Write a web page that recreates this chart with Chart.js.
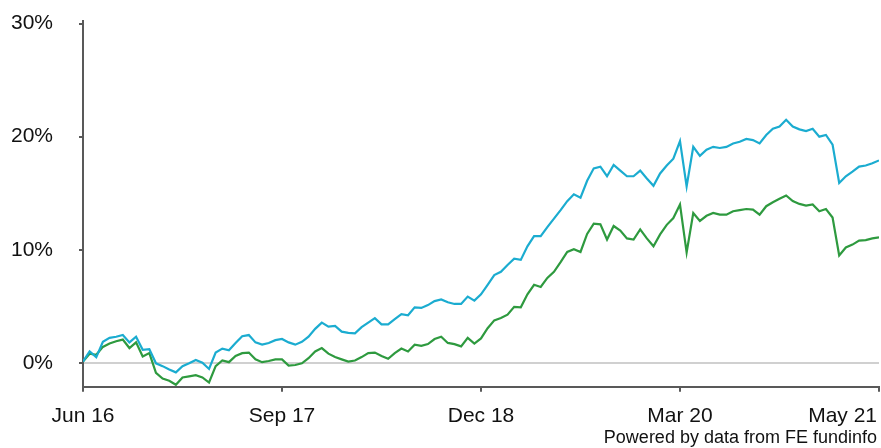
<!DOCTYPE html>
<html>
<head>
<meta charset="utf-8">
<script src="https://cdn.jsdelivr.net/npm/chart.js@4.4.1/dist/chart.umd.min.js"></script>
<style>
  html, body { margin: 0; padding: 0; background: #fff; }
</style>
</head>
<body>
<canvas id="perfChart" width="881" height="448"></canvas>
<script>
// ==========================
// Data (half-month steps, Jun 16 -> May 21)
// ==========================
const xTickPos    = [0, 30, 60, 90, 120];
const xTickLabels = ['Jun 16', 'Sep 17', 'Dec 18', 'Mar 20', 'May 21'];
const yTickValues = [0, 10, 20, 30];
const sourceNote  = 'Powered by data from FE fundinfo';

const fundReturn = [
  0.1, 1.0, 0.5, 1.85, 2.2, 2.3, 2.45, 1.8, 2.3, 1.15,
  1.2, -0.05, -0.3, -0.6, -0.85, -0.3, -0.05, 0.25, 0.0, -0.55,
  0.9, 1.25, 1.1, 1.75, 2.35, 2.45, 1.8, 1.6, 1.75, 2.0,
  2.1, 1.8, 1.6, 1.85, 2.3, 3.0, 3.55, 3.2, 3.25, 2.75,
  2.65, 2.6, 3.15, 3.55, 3.95, 3.4, 3.4, 3.85, 4.3, 4.2,
  4.9, 4.85, 5.1, 5.45, 5.6, 5.35, 5.2, 5.2, 5.85, 5.5,
  6.05, 6.9, 7.75, 8.05, 8.65, 9.2, 9.1, 10.3, 11.2, 11.2,
  12.0, 12.75, 13.5, 14.3, 14.9, 14.6, 16.1, 17.2, 17.35, 16.5,
  17.5, 17.0, 16.5, 16.5, 17.0, 16.3, 15.65, 16.75, 17.45, 18.05,
  19.6, 15.6, 19.1, 18.3, 18.85, 19.1, 19.0, 19.1, 19.4, 19.55,
  19.8, 19.7, 19.4, 20.15, 20.7, 20.9, 21.5, 20.9, 20.65, 20.5,
  20.7, 20.0, 20.15, 19.3, 15.9, 16.5, 16.9, 17.35, 17.45, 17.65,
  17.9
];

const sectorReturn = [
  0.1, 0.8, 0.7, 1.4, 1.7, 1.9, 2.05, 1.3, 1.8, 0.55,
  0.85, -0.9, -1.4, -1.6, -1.95, -1.3, -1.2, -1.1, -1.3, -1.75,
  -0.3, 0.2, 0.05, 0.6, 0.85, 0.9, 0.3, 0.05, 0.15, 0.3,
  0.3, -0.25, -0.2, -0.05, 0.4, 1.0, 1.3, 0.8, 0.5, 0.3,
  0.1, 0.2, 0.5, 0.85, 0.9, 0.6, 0.35, 0.85, 1.25, 1.0,
  1.6, 1.5, 1.65, 2.1, 2.3, 1.75, 1.65, 1.45, 2.2, 1.7,
  2.15, 3.05, 3.75, 3.95, 4.25, 4.95, 4.9, 6.05, 6.9, 6.7,
  7.5, 8.05, 8.9, 9.8, 10.05, 9.8, 11.4, 12.3, 12.25, 10.9,
  12.1, 11.7, 11.0, 10.9, 11.8, 11.0, 10.3, 11.35, 12.2, 12.8,
  14.0, 9.75, 13.25, 12.55, 13.0, 13.25, 13.1, 13.1, 13.4, 13.5,
  13.6, 13.55, 13.1, 13.85, 14.2, 14.5, 14.8, 14.3, 14.05, 13.9,
  14.0, 13.4, 13.6, 12.85, 9.5, 10.2, 10.45, 10.8, 10.85, 11.0,
  11.1
];

const FONT = '"Liberation Sans", Arial, sans-serif';
const AXIS_GREY = '#595959';

// x labels are drawn by hand so the last one can hug the right edge
const xLabelPlugin = {
  id: 'xLabels',
  afterDraw(chart) {
    const ctx = chart.ctx, xs = chart.scales.x;
    ctx.save();
    ctx.font = '21px ' + FONT;
    ctx.fillStyle = '#111';
    ctx.textBaseline = 'middle';
    ctx.textAlign = 'left';
    xTickPos.forEach((v, i) => {
      const w = ctx.measureText(xTickLabels[i]).width;
      let left = xs.getPixelForValue(v) - w / 2;
      left = Math.min(left, chart.width - 4 - w);
      ctx.fillText(xTickLabels[i], left, 416);
    });
    ctx.font = '18px ' + FONT;
    ctx.textAlign = 'right';
    ctx.textBaseline = 'alphabetic';
    ctx.fillText(sourceNote, chart.width - 4, 443);
    ctx.restore();
  }
};

new Chart(document.getElementById('perfChart'), {
  type: 'line',
  data: {
    datasets: [
      {
        label: 'Fund',
        data: fundReturn.map((v, i) => ({ x: i, y: v })),
        borderColor: '#1bacd0',
        borderWidth: 2.2,
        pointRadius: 0,
        tension: 0
      },
      {
        label: 'Sector',
        data: sectorReturn.map((v, i) => ({ x: i, y: v })),
        borderColor: '#2e9a3f',
        borderWidth: 2.2,
        pointRadius: 0,
        tension: 0
      }
    ]
  },
  options: {
    responsive: false,
    animation: false,
    layout: { padding: { top: 21.4, right: 2, left: 0, bottom: 0 } },
    plugins: { legend: { display: false }, tooltip: { enabled: false } },
    scales: {
      x: {
        type: 'linear',
        min: 0,
        max: 120,
        afterBuildTicks: s => { s.ticks = xTickPos.map(v => ({ value: v })); },
        afterFit: s => { s.height = 61.3; s.paddingLeft = 0; s.paddingRight = 0; },
        border: { color: AXIS_GREY, width: 2 },
        grid: { color: 'rgba(0,0,0,0)', tickColor: AXIS_GREY, tickLength: 5, lineWidth: 2 },
        ticks: { display: false }
      },
      y: {
        min: -2.12,
        max: 30.2,
        afterBuildTicks: s => { s.ticks = yTickValues.map(v => ({ value: v })); },
        // keep the tick padding from pushing the plot down
        afterFit: s => { s.width = 83; s.paddingTop = 0; s.paddingBottom = 0; },
        border: { color: AXIS_GREY, width: 2 },
        grid: {
          color: c => (c.tick && c.tick.value === 0) ? '#d0d0d0' : 'rgba(0,0,0,0)',
          tickColor: AXIS_GREY,
          tickLength: 4,
          lineWidth: 2
        },
        ticks: {
          padding: 26,
          color: '#111',
          font: { family: FONT, size: 21 },
          callback: v => v + '%'
        }
      }
    }
  },
  plugins: [xLabelPlugin]
});
</script>
</body>
</html>
